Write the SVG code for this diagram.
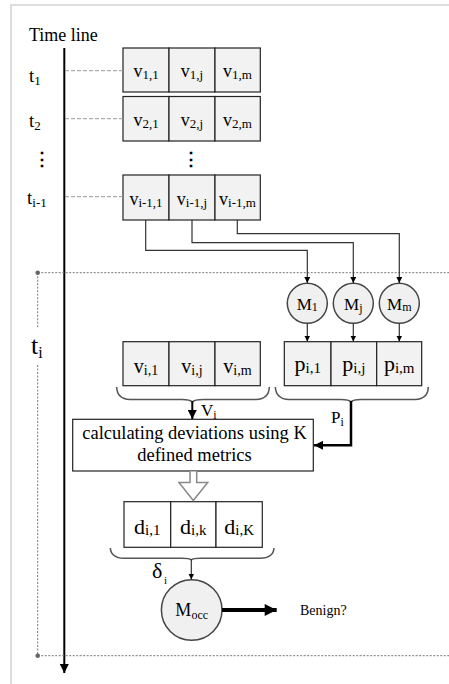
<svg xmlns="http://www.w3.org/2000/svg" width="449" height="684" viewBox="0 0 449 684">
<style>
text{font-family:"Liberation Serif","Times New Roman",serif;fill:#000}
.cell{fill:#f2f2f2;stroke:#222;stroke-width:1.2}
.wcell{fill:#fff;stroke:#222;stroke-width:1.2}
.circ{fill:#f0f0f0;stroke:#444;stroke-width:1.5}
.v{font-size:18px;text-anchor:middle}
.vb{font-size:20px;text-anchor:middle}
.p{font-size:22px;text-anchor:middle}
.m{font-size:17px;text-anchor:middle}
.tl{font-size:19px}
.dash{stroke:#999;stroke-width:1;stroke-dasharray:4 2;fill:none}
.dot{stroke:#777;stroke-width:1;stroke-dasharray:2 1.5;fill:none}
.conn{stroke:#333;stroke-width:1.2;fill:none}
.brace{stroke:#555;stroke-width:1.5;fill:none}
</style>
<defs>
<marker id="ah" viewBox="0 0 10 10" refX="10" refY="5" markerWidth="6" markerHeight="6" markerUnits="userSpaceOnUse" orient="auto"><path d="M0,0 L10,5 L0,10 z" fill="#000"/></marker>
<marker id="ahb" viewBox="0 0 10 10" refX="10" refY="5" markerWidth="9" markerHeight="9" markerUnits="userSpaceOnUse" orient="auto"><path d="M0,0 L10,5 L0,10 z" fill="#000"/></marker>
<marker id="ahx" viewBox="0 0 10 10" refX="10" refY="5" markerWidth="14" markerHeight="12" markerUnits="userSpaceOnUse" orient="auto"><path d="M0,0 L10,5 L0,10 z" fill="#000"/></marker>
</defs>
<rect x="11" y="5" width="460" height="700" fill="none" stroke="#ddd" stroke-width="2"/>

<g id="timeline">
<text x="29" y="41" font-size="18">Time line</text>
<line x1="64.3" y1="48" x2="64.3" y2="673" stroke="#000" stroke-width="2" marker-end="url(#ahb)"/>
<text class="tl" x="29" y="82">t<tspan font-size="13" dy="3">1</tspan></text>
<text class="tl" x="29" y="127">t<tspan font-size="13" dy="3">2</tspan></text>
<text x="33" y="165" font-size="18" font-weight="bold">⋮</text>
<text class="tl" x="27" y="204">t<tspan font-size="13" dy="3">i-1</tspan></text>
</g>

<g id="period">
<line class="dot" x1="37.7" y1="272.7" x2="449" y2="272.7"/>
<line class="dot" x1="37.7" y1="655.7" x2="449" y2="655.7"/>
<line class="dot" x1="37.7" y1="272.7" x2="37.7" y2="328"/>
<line class="dot" x1="37.7" y1="365" x2="37.7" y2="655.7"/>
<circle cx="37.7" cy="272.7" r="2.3" fill="#666"/>
<circle cx="37.7" cy="655.7" r="2.3" fill="#666"/>
<text x="31" y="354" font-size="26">t<tspan font-size="16" dy="4">i</tspan></text>
</g>

<g id="row1">
<rect class="cell" x="123" y="48" width="46" height="44"/>
<rect class="cell" x="169" y="48" width="46" height="44"/>
<rect class="cell" x="215" y="48" width="45.3" height="44"/>
<text class="v" x="146" y="77">v<tspan font-size="13" dy="2">1,1</tspan></text>
<text class="v" x="192" y="77">v<tspan font-size="13" dy="2">1,j</tspan></text>
<text class="v" x="237.5" y="77">v<tspan font-size="13" dy="2">1,m</tspan></text>
</g>
<g id="row2">
<rect class="cell" x="123" y="96.5" width="46" height="44.5"/>
<rect class="cell" x="169" y="96.5" width="46" height="44.5"/>
<rect class="cell" x="215" y="96.5" width="45.3" height="44.5"/>
<text class="v" x="146" y="126">v<tspan font-size="13" dy="2">2,1</tspan></text>
<text class="v" x="192" y="126">v<tspan font-size="13" dy="2">2,j</tspan></text>
<text class="v" x="237.5" y="126">v<tspan font-size="13" dy="2">2,m</tspan></text>
</g>
<text x="182" y="165" font-size="18" font-weight="bold">⋮</text>
<g id="rowim1">
<rect class="cell" x="123" y="175" width="46" height="45"/>
<rect class="cell" x="169" y="175" width="46" height="45"/>
<rect class="cell" x="215" y="175" width="45.3" height="45"/>
<text class="v" x="146" y="205">v<tspan font-size="13" dy="2">i-1,1</tspan></text>
<text class="v" x="192" y="205">v<tspan font-size="13" dy="2">i-1,j</tspan></text>
<text class="v" x="237.5" y="205">v<tspan font-size="13" dy="2">i-1,m</tspan></text>
</g>

<g id="M1"><circle class="circ" cx="307.3" cy="303.3" r="20"/><text class="m" x="307.3" y="310">M<tspan font-size="12" dy="1">1</tspan></text></g>
<g id="Mj"><circle class="circ" cx="353.3" cy="303.3" r="20"/><text class="m" x="353.3" y="310">M<tspan font-size="12" dy="2">j</tspan></text></g>
<g id="Mm"><circle class="circ" cx="399.3" cy="303.3" r="20"/><text class="m" x="399.3" y="310">M<tspan font-size="12" dy="1">m</tspan></text></g>

<g id="vi">
<rect class="cell" x="123" y="341.7" width="46" height="44"/>
<rect class="cell" x="169" y="341.7" width="46" height="44"/>
<rect class="cell" x="215" y="341.7" width="45.3" height="44"/>
<text class="vb" x="146" y="373">v<tspan font-size="14" dy="2">i,1</tspan></text>
<text class="vb" x="192" y="373">v<tspan font-size="14" dy="2">i,j</tspan></text>
<text class="vb" x="237.5" y="373">v<tspan font-size="14" dy="2">i,m</tspan></text>
</g>
<g id="pi">
<rect class="cell" x="284.3" y="341.7" width="46.7" height="44"/>
<rect class="cell" x="331" y="341.7" width="45.7" height="44"/>
<rect class="cell" x="376.7" y="341.7" width="45" height="44"/>
<text class="p" x="307.7" y="371">p<tspan font-size="15" dy="2">i,1</tspan></text>
<text class="p" x="353.8" y="371">p<tspan font-size="15" dy="2">i,j</tspan></text>
<text class="p" x="399.2" y="371">p<tspan font-size="15" dy="2">i,m</tspan></text>
</g>

<g id="calc">
<rect x="72.7" y="419.3" width="240.6" height="51.7" fill="#fff" stroke="#222" stroke-width="1.2"/>
<text x="194.5" y="438.5" font-size="18.5" text-anchor="middle">calculating deviations using K</text>
<text x="194.5" y="461" font-size="18.5" text-anchor="middle">defined metrics</text>
</g>

<g id="di">
<rect class="wcell" x="124" y="501.7" width="46.7" height="45.6"/>
<rect class="wcell" x="170.7" y="501.7" width="45.3" height="45.6"/>
<rect class="wcell" x="216" y="501.7" width="46.3" height="45.6"/>
<text class="p" x="147.3" y="534">d<tspan font-size="15" dy="1">i,1</tspan></text>
<text class="p" x="193.3" y="534">d<tspan font-size="15" dy="1">i,k</tspan></text>
<text class="p" x="239.2" y="534">d<tspan font-size="15" dy="1">i,K</tspan></text>
</g>

<g id="Mocc">
<circle class="circ" cx="191.7" cy="610" r="30.3"/>
<text x="191.7" y="616" font-size="18" text-anchor="middle">M<tspan font-size="12" dy="3">occ</tspan></text>
</g>
<text id="benign" x="300" y="615" font-size="14">Benign?</text>

<g id="connectors">
<line class="dash" x1="65" y1="70.7" x2="123" y2="70.7"/>
<line class="dash" x1="65" y1="118.7" x2="123" y2="118.7"/>
<line class="dash" x1="65" y1="196.7" x2="123" y2="196.7"/>
<path class="conn" d="M145.7,220 V250.3 H307.3 V283" marker-end="url(#ah)"/>
<path class="conn" d="M192,220 V242.7 H353.3 V283" marker-end="url(#ah)"/>
<path class="conn" d="M237.3,220 V233.7 H399.3 V283" marker-end="url(#ah)"/>
<line class="conn" x1="307.3" y1="323.3" x2="307.3" y2="341.5" marker-end="url(#ah)"/>
<line class="conn" x1="353.3" y1="323.3" x2="353.3" y2="341.5" marker-end="url(#ah)"/>
<line class="conn" x1="399.3" y1="323.3" x2="399.3" y2="341.5" marker-end="url(#ah)"/>
<path class="brace" d="M116.7,387 Q117,399 130,399.5 H182 Q190,399.5 192.3,402 Q194.6,399.5 203,399.5 H256 Q269,399 269.3,387"/>
<path class="brace" d="M275.3,387 Q276,399 289,399.5 H341 Q349,399.5 351,402 Q353,399.5 361,399.5 H415 Q428,399 428.3,387"/>
<line x1="192.3" y1="401" x2="192.3" y2="419" stroke="#000" stroke-width="2" marker-end="url(#ahb)"/>
<text x="201" y="416" font-size="17">V<tspan font-size="12" dy="3">i</tspan></text>
<path d="M351,401 V445.3 H314" fill="none" stroke="#000" stroke-width="2.5" marker-end="url(#ahb)"/>
<text x="331" y="423" font-size="17">P<tspan font-size="12" dy="3">i</tspan></text>
<path d="M190,471.6 V482.5 H179 L193.3,500.5 L207.7,482.5 H196.7 V471.6" fill="#fff" stroke="#888" stroke-width="1.5"/>
<path class="brace" d="M110.3,548 Q111,558 124,558.3 H182 Q189.5,558.3 191.3,560 Q193,558.3 200,558.3 H260 Q273.5,558 274,548"/>
<line class="conn" x1="191.3" y1="559" x2="191.3" y2="579.5" marker-end="url(#ah)"/>
<text x="152" y="578" font-size="22">δ</text>
<text x="164" y="584" font-size="11" fill="#666">i</text>
<line x1="222" y1="610" x2="276.7" y2="610" stroke="#000" stroke-width="4" marker-end="url(#ahx)"/>
</g>
</svg>
